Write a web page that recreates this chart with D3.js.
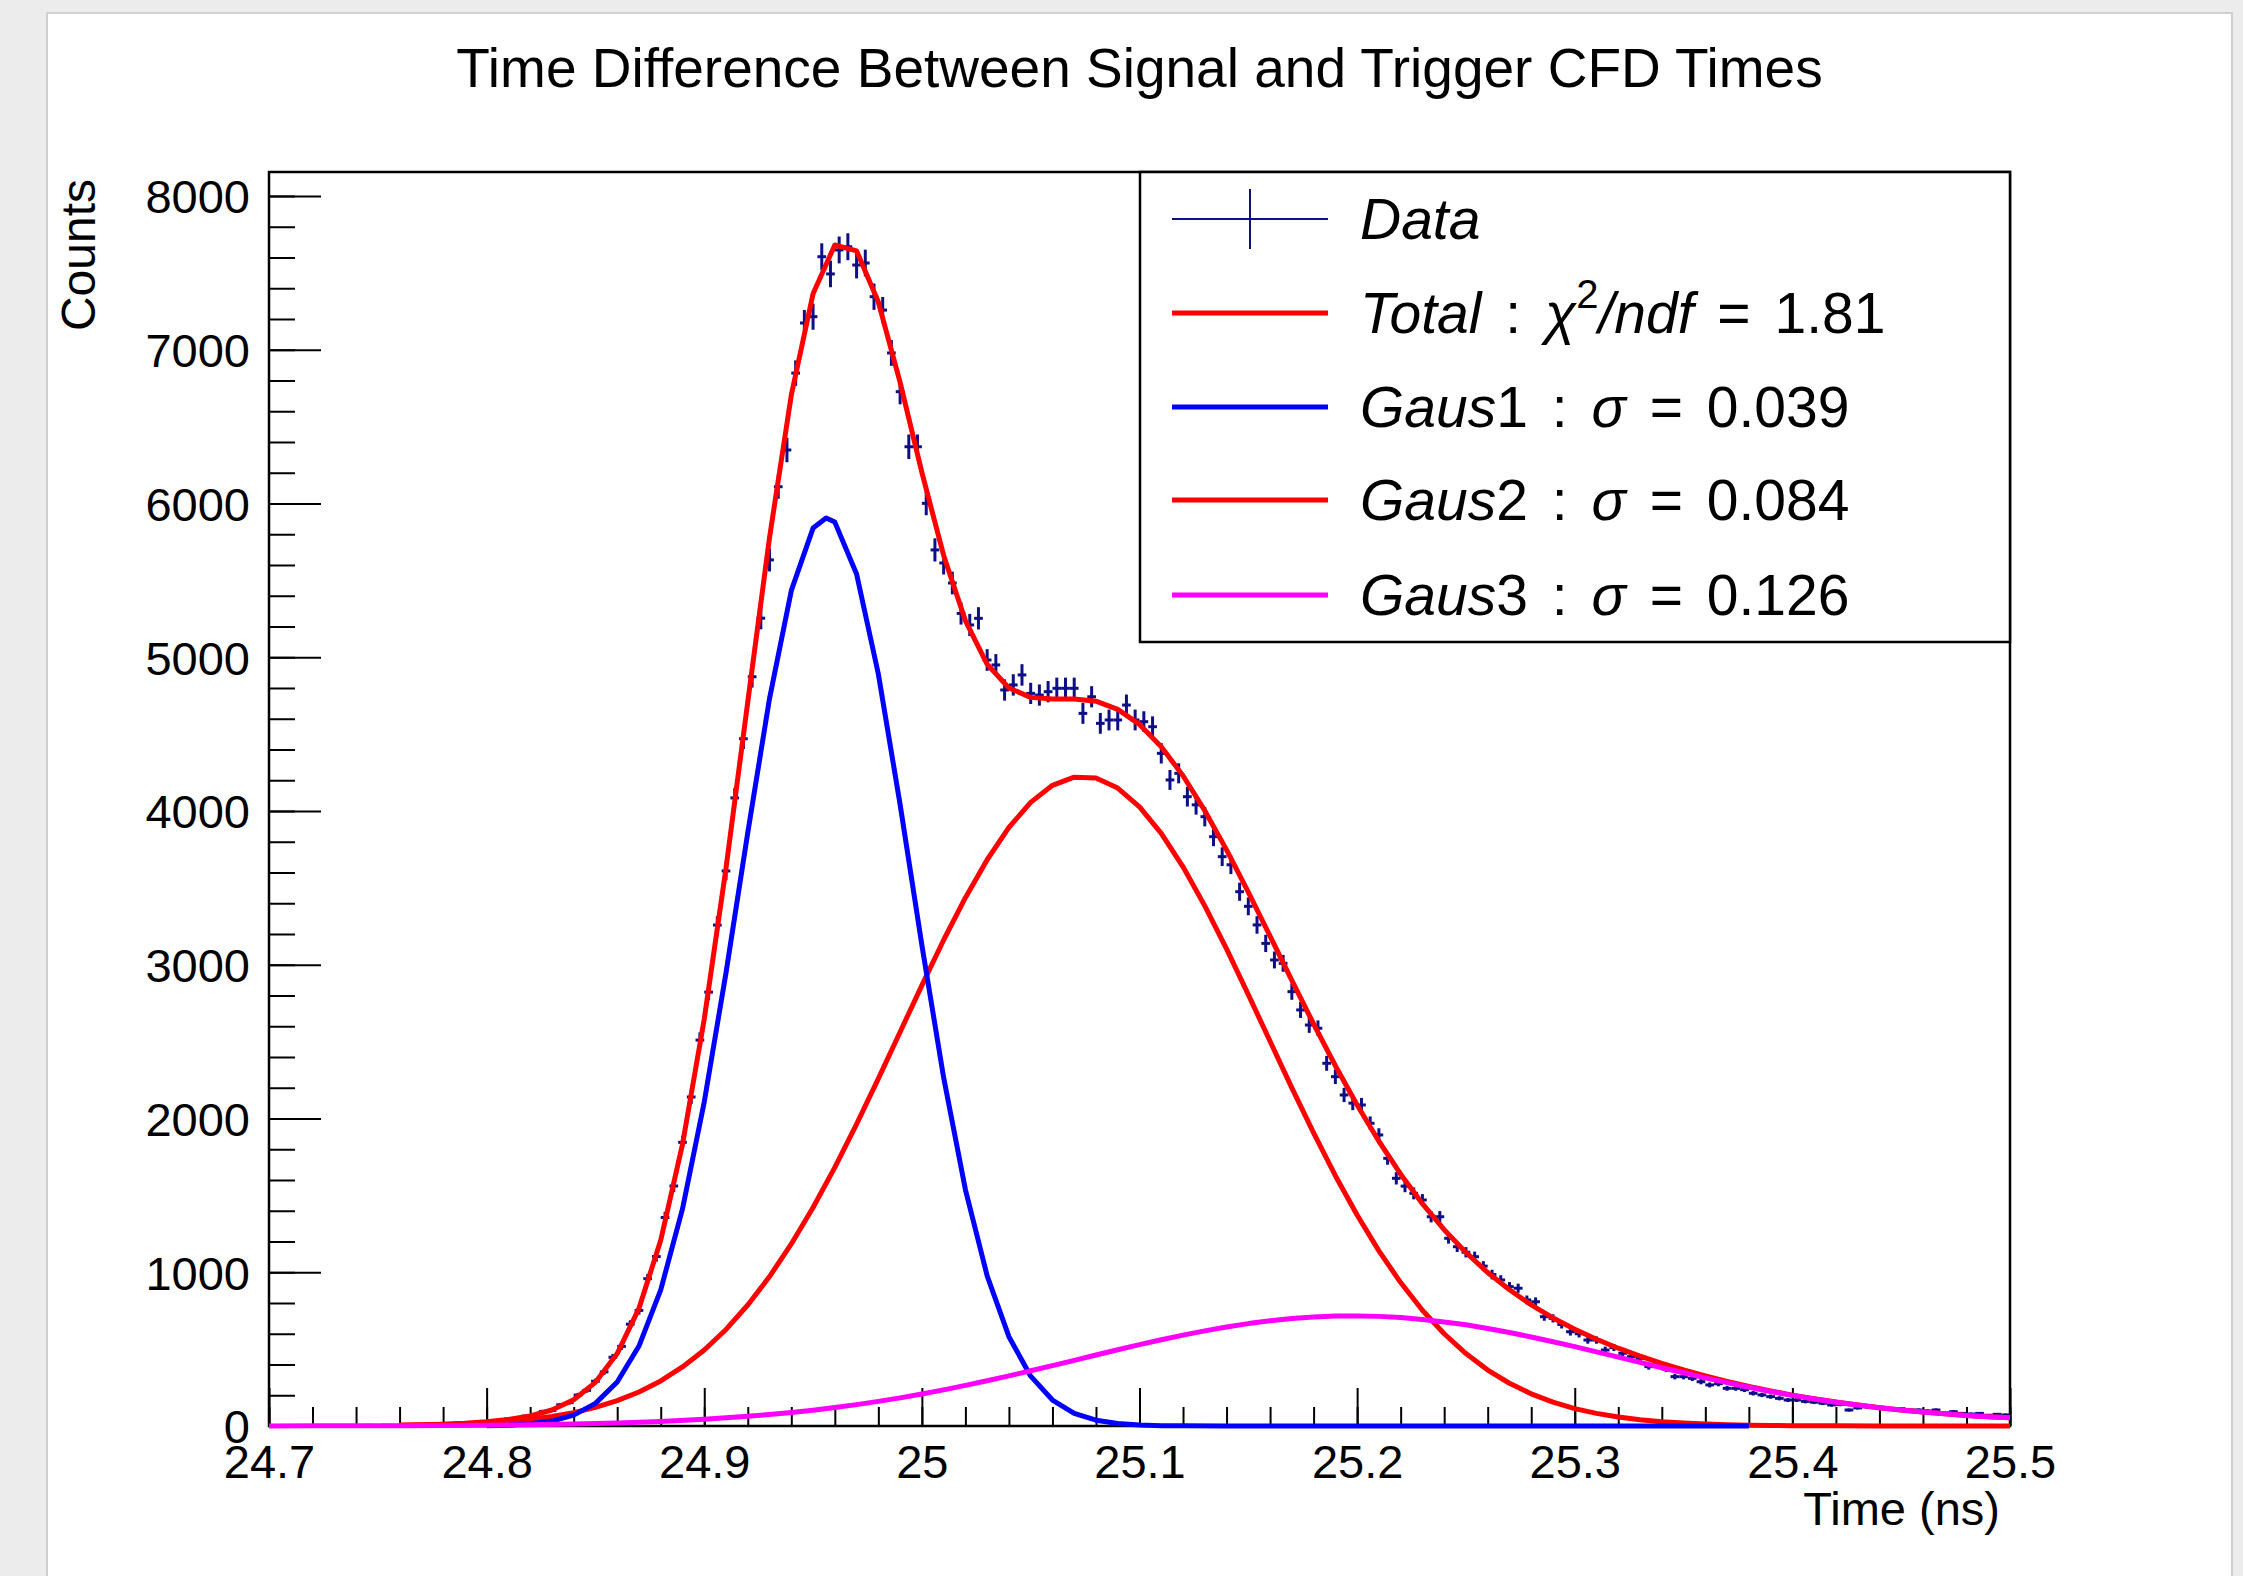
<!DOCTYPE html>
<html>
<head>
<meta charset="utf-8">
<script src="https://cdn.jsdelivr.net/npm/d3@7"></script>
<style>
body { margin: 0; background: #ececec; }
svg text { font-family: "Liberation Sans", Arial, Helvetica, sans-serif; fill: #000; }
</style>
</head>
<body>
<div id="chart_id"></div>
<script>
// ---- data ----
const xTicks = [24.7, 24.8, 24.9, 25.0, 25.1, 25.2, 25.3, 25.4, 25.5]
const xTickLabels = ["24.7", "24.8", "24.9", "25", "25.1", "25.2", "25.3", "25.4", "25.5"]
const yTicks = [0, 1000, 2000, 3000, 4000, 5000, 6000, 7000, 8000]
const yTickLabels = ["0", "1000", "2000", "3000", "4000", "5000", "6000", "7000", "8000"]

// histogram: 200 bins between 24.7 and 25.5 ns
const histRange = [24.7, 25.5]
const histCounts = [
	0, 1, 0, 1, 0, 2, 1, 2, 1, 3,
	2, 4, 3, 5, 4, 7, 6, 9, 8, 13,
	12, 17, 20, 21, 29, 34, 33, 46, 49, 64,
	70, 95, 101, 138, 152, 201, 232, 291, 352, 447,
	518, 662, 752, 958, 1102, 1356, 1561, 1845, 2140, 2510,
	2822, 3258, 3610, 4085, 4470, 4873, 5254, 5633, 6109, 6348,
	6848, 7174, 7215, 7605, 7493, 7649, 7670, 7551, 7564, 7345,
	7258, 6979, 6727, 6369, 6369, 6001, 5698, 5613, 5483, 5285,
	5210, 5253, 4982, 4950, 4787, 4820, 4885, 4765, 4754, 4776,
	4798, 4798, 4798, 4635, 4743, 4570, 4592, 4592, 4689, 4592,
	4581, 4548, 4375, 4202, 4245, 4093, 4040, 3963, 3833, 3703,
	3650, 3475, 3380, 3259, 3139, 3031, 3009, 2825, 2706, 2608,
	2587, 2359, 2272, 2153, 2100, 2088, 1969, 1893, 1741, 1611,
	1560, 1513, 1470, 1361, 1361, 1221, 1166, 1130, 1101, 1040,
	985, 950, 906, 896, 820, 808, 711, 700, 660, 613,
	600, 559, 559, 494, 510, 473, 451, 440, 386, 400,
	370, 321, 321, 310, 288, 267, 275, 245, 245, 236,
	213, 202, 191, 180, 169, 169, 160, 155, 148, 137,
	140, 104, 118, 126, 126, 120, 108, 112, 104, 104,
	98, 104, 85, 93, 82, 78, 82, 70, 76, 72
]

// fitted curves, [time, counts]
const totalFit = [
	[24.76, 6], [24.77, 8], [24.78, 12], [24.79, 18], [24.80, 28], [24.81, 42], [24.82, 66], [24.83, 104],
	[24.84, 171], [24.85, 284], [24.86, 471], [24.87, 765], [24.88, 1208], [24.89, 1832], [24.90, 2646],
	[24.91, 3629], [24.92, 4710], [24.93, 5779], [24.94, 6705], [24.95, 7364], [24.96, 7681], [24.97, 7643],
	[24.98, 7310], [24.99, 6788], [25.00, 6202], [25.01, 5662], [25.02, 5238], [25.03, 4954], [25.04, 4800],
	[25.05, 4739], [25.06, 4729], [25.07, 4729], [25.08, 4714], [25.09, 4661], [25.10, 4563], [25.11, 4418],
	[25.12, 4229], [25.13, 4002], [25.14, 3747], [25.15, 3472], [25.16, 3186], [25.17, 2898], [25.18, 2615],
	[25.19, 2343], [25.20, 2088], [25.21, 1852], [25.22, 1638], [25.23, 1446], [25.24, 1277], [25.25, 1129],
	[25.26, 998], [25.27, 886], [25.28, 788], [25.29, 703], [25.30, 629], [25.31, 564], [25.32, 506],
	[25.33, 455], [25.34, 407], [25.35, 365], [25.36, 326], [25.37, 290], [25.38, 257], [25.39, 228],
	[25.40, 201], [25.41, 177], [25.42, 156], [25.43, 136], [25.44, 119], [25.45, 104], [25.46, 91],
	[25.47, 79], [25.48, 69], [25.49, 60], [25.50, 53]
]
const gaus1Fit = [
	[24.80, 2], [24.81, 5], [24.82, 14], [24.83, 32], [24.84, 71], [24.85, 147], [24.86, 286], [24.87, 520],
	[24.88, 885], [24.89, 1412], [24.90, 2108], [24.91, 2948], [24.92, 3860], [24.93, 4732], [24.94, 5433],
	[24.95, 5840], [24.956, 5906], [24.96, 5879], [24.97, 5541], [24.98, 4891], [24.99, 4042], [25.00, 3128],
	[25.01, 2266], [25.02, 1538], [25.03, 977], [25.04, 581], [25.05, 324], [25.06, 169], [25.07, 82],
	[25.08, 38], [25.09, 16], [25.10, 6], [25.11, 2], [25.12, 1], [25.14, 0], [25.25, 0], [25.38, 0]
]
const gaus2Fit = [
	[24.76, 4], [24.77, 6], [24.78, 9], [24.79, 14], [24.80, 21], [24.81, 30], [24.82, 44], [24.83, 62],
	[24.84, 87], [24.85, 121], [24.86, 165], [24.87, 221], [24.88, 293], [24.89, 384], [24.90, 494],
	[24.91, 628], [24.92, 787], [24.93, 972], [24.94, 1184], [24.95, 1421], [24.96, 1682], [24.97, 1963],
	[24.98, 2259], [24.99, 2563], [25.00, 2866], [25.01, 3161], [25.02, 3436], [25.03, 3683], [25.04, 3893],
	[25.05, 4056], [25.06, 4167], [25.07, 4220], [25.08, 4214], [25.09, 4149], [25.10, 4027], [25.11, 3855],
	[25.12, 3637], [25.13, 3383], [25.14, 3103], [25.15, 2806], [25.16, 2502], [25.17, 2199], [25.18, 1906],
	[25.19, 1628], [25.20, 1372], [25.21, 1139], [25.22, 933], [25.23, 753], [25.24, 600], [25.25, 471],
	[25.26, 364], [25.27, 278], [25.28, 209], [25.29, 155], [25.30, 113], [25.31, 82], [25.32, 58],
	[25.33, 41], [25.34, 28], [25.35, 19], [25.36, 13], [25.37, 8], [25.38, 5], [25.39, 4], [25.40, 2],
	[25.42, 1], [25.44, 0], [25.50, 0]
]
const gaus3Fit = [
	[24.70, 0], [24.72, 1], [24.74, 1], [24.76, 2], [24.78, 3], [24.80, 5], [24.82, 8], [24.84, 13],
	[24.86, 20], [24.88, 30], [24.90, 44], [24.91, 53], [24.92, 63], [24.93, 75], [24.94, 88], [24.95, 103],
	[24.96, 120], [24.97, 139], [24.98, 160], [24.99, 183], [25.00, 208], [25.01, 235], [25.02, 264],
	[25.03, 294], [25.04, 326], [25.05, 359], [25.06, 393], [25.07, 427], [25.08, 462], [25.09, 496],
	[25.10, 529], [25.11, 561], [25.12, 591], [25.13, 619], [25.14, 644], [25.15, 666], [25.16, 684],
	[25.17, 699], [25.18, 709], [25.19, 715], [25.20, 716], [25.21, 713], [25.22, 705], [25.23, 693],
	[25.24, 677], [25.25, 658], [25.26, 634], [25.27, 608], [25.28, 579], [25.29, 548], [25.30, 516],
	[25.31, 482], [25.32, 448], [25.33, 414], [25.34, 379], [25.35, 346], [25.36, 313], [25.37, 282],
	[25.38, 252], [25.39, 224], [25.40, 199], [25.41, 176], [25.42, 155], [25.43, 136], [25.44, 119],
	[25.45, 104], [25.46, 91], [25.47, 79], [25.48, 69], [25.49, 60], [25.50, 53]
]

const legendNames = ["Data", "Total", "Gaus1", "Gaus2", "Gaus3"]
const chi2ndf = "1.81"
const gausSigmas = ["0.039", "0.084", "0.126"]

// ---- layout ----
const W = 2243, H = 1576
const frame = {left: 269, right: 2010, top: 172, bottom: 1426}
const yMax = 8156
const data_color = "#0e0e86"
const curve_width = 5

const svg = d3.select("#chart_id")
	.append("svg")
	.attr("width", W)
	.attr("height", H)

// canvas panel
svg.append("rect")
	.attr("x", 46).attr("y", 12)
	.attr("width", 2187).attr("height", H)
	.attr("fill", "#cfcfcf")
svg.append("rect")
	.attr("x", 48).attr("y", 14)
	.attr("width", 2183).attr("height", H)
	.attr("fill", "white")

var x = d3.scaleLinear().domain(histRange).range([frame.left, frame.right])
var y = d3.scaleLinear().domain([0, yMax]).range([frame.bottom, frame.top])

// title
svg.append("text")
	.attr("x", (frame.left + frame.right) / 2)
	.attr("y", 87)
	.attr("text-anchor", "middle")
	.attr("font-size", 55)
	.text("Time Difference Between Signal and Trigger CFD Times")

// frame box
svg.append("rect")
	.attr("x", frame.left).attr("y", frame.top)
	.attr("width", frame.right - frame.left)
	.attr("height", frame.bottom - frame.top)
	.attr("fill", "none")
	.attr("stroke", "black")
	.attr("stroke-width", 2.5)

// x axis: minor then major ticks, pointing inward
const xMinor = d3.range(histRange[0], histRange[1] + 0.001, 0.02)
svg.append("g")
	.attr("transform", "translate(0," + frame.bottom + ")")
	.call(d3.axisBottom(x).tickValues(xMinor).tickSize(-19).tickFormat(""))
	.call(g => g.select(".domain").remove())
	.call(g => g.selectAll("line").attr("stroke-width", 2))

svg.append("g")
	.attr("transform", "translate(0," + frame.bottom + ")")
	.call(d3.axisBottom(x).tickValues(xTicks).tickSize(-38)
		.tickFormat((d, i) => xTickLabels[i]))
	.call(g => g.select(".domain").remove())
	.call(g => g.selectAll("line").attr("stroke-width", 2))
	.call(g => g.selectAll("text")
		.attr("y", 52).attr("dy", 0)
		.attr("font-size", 47))
	.attr("font-size", 47)
	.attr("font-family", null)

// y axis
const yMinor = d3.range(0, 8001, 200)
svg.append("g")
	.attr("transform", "translate(" + frame.left + ",0)")
	.call(d3.axisLeft(y).tickValues(yMinor).tickSize(-26).tickFormat(""))
	.call(g => g.select(".domain").remove())
	.call(g => g.selectAll("line").attr("stroke-width", 2))

svg.append("g")
	.attr("transform", "translate(" + frame.left + ",0)")
	.call(d3.axisLeft(y).tickValues(yTicks).tickSize(-52)
		.tickFormat((d, i) => yTickLabels[i]))
	.call(g => g.select(".domain").remove())
	.call(g => g.selectAll("line").attr("stroke-width", 2))
	.call(g => g.selectAll("text")
		.attr("x", -19).attr("dy", "0.36em")
		.attr("font-size", 47))
	.attr("font-size", 47)
	.attr("font-family", null)

// axis titles
svg.append("text")
	.attr("x", 2000).attr("y", 1525)
	.attr("text-anchor", "end")
	.attr("font-size", 47)
	.text("Time (ns)")

svg.append("text")
	.attr("transform", "translate(95,179) rotate(-90)")
	.attr("text-anchor", "end")
	.attr("font-size", 48)
	.text("Counts")

// ---- data points with error bars ----
const binWidth = (histRange[1] - histRange[0]) / histCounts.length
const bins = histCounts.map((c, i) => ({
	center: histRange[0] + (i + 0.5) * binWidth,
	count: c
})).filter(b => b.count > 0)

const pts = svg.append("g")
	.attr("stroke", data_color)
	.attr("stroke-width", 3)

pts.selectAll(".hbar")
	.data(bins)
	.join("line")
	.attr("class", "hbar")
	.attr("x1", d => x(d.center - binWidth / 2))
	.attr("x2", d => x(d.center + binWidth / 2))
	.attr("y1", d => y(d.count))
	.attr("y2", d => y(d.count))

pts.selectAll(".vbar")
	.data(bins)
	.join("line")
	.attr("class", "vbar")
	.attr("x1", d => x(d.center))
	.attr("x2", d => x(d.center))
	.attr("y1", d => y(d.count - Math.sqrt(d.count)))
	.attr("y2", d => y(d.count + Math.sqrt(d.count)))

// ---- fit curves ----
const line = d3.line()
	.x(d => x(d[0]))
	.y(d => y(d[1]))

function draw_curve(points, color){
	svg.append("path")
		.datum(points)
		.attr("d", line)
		.attr("fill", "none")
		.attr("stroke", color)
		.attr("stroke-width", curve_width)
		.attr("stroke-linejoin", "round")
}

draw_curve(gaus2Fit, "#ff0000")
draw_curve(totalFit, "#ff0000")
draw_curve(gaus1Fit, "#0000ff")
draw_curve(gaus3Fit, "#ff00ff")

// ---- legend ----
const leg = {left: 1140, top: 172, right: 2010, bottom: 642}
svg.append("rect")
	.attr("x", leg.left).attr("y", leg.top)
	.attr("width", leg.right - leg.left)
	.attr("height", leg.bottom - leg.top)
	.attr("fill", "white")
	.attr("stroke", "black")
	.attr("stroke-width", 2.5)

const row_y = [219, 313, 407, 500, 595]
const row_colors = [data_color, "#ff0000", "#0000ff", "#ff0000", "#ff00ff"]
const sample_x1 = 1172, sample_x2 = 1328, text_x = 1360

legendNames.forEach(function(name, i){
	var ry = row_y[i]
	if (i == 0){
		svg.append("line")
			.attr("x1", sample_x1).attr("x2", sample_x2)
			.attr("y1", ry).attr("y2", ry)
			.attr("stroke", data_color).attr("stroke-width", 2)
		svg.append("line")
			.attr("x1", (sample_x1 + sample_x2) / 2).attr("x2", (sample_x1 + sample_x2) / 2)
			.attr("y1", ry - 30).attr("y2", ry + 30)
			.attr("stroke", data_color).attr("stroke-width", 2)
	} else {
		svg.append("line")
			.attr("x1", sample_x1).attr("x2", sample_x2)
			.attr("y1", ry).attr("y2", ry)
			.attr("stroke", row_colors[i]).attr("stroke-width", curve_width)
	}

	var t = svg.append("text")
		.attr("x", text_x)
		.attr("y", ry + 20)
		.attr("font-size", 57)
		.attr("word-spacing", 8)
		.attr("xml:space", "preserve")

	if (i == 0){
		t.append("tspan").attr("font-style", "italic").text(name)
	} else if (i == 1){
		t.append("tspan").attr("font-style", "italic").text(name)
		t.append("tspan").text(" : ")
		t.append("tspan").attr("font-style", "italic").text("χ")
		t.append("tspan").attr("font-size", 40).attr("dy", -25).text("2")
		t.append("tspan").attr("font-style", "italic").attr("dy", 25).text("/ndf")
		t.append("tspan").text(" = " + chi2ndf)
	} else {
		t.append("tspan").attr("font-style", "italic").text(name.slice(0, 4))
		t.append("tspan").text(name.slice(4))
		t.append("tspan").text(" : ")
		t.append("tspan").attr("font-style", "italic").text("σ")
		t.append("tspan").text(" = " + gausSigmas[i - 2])
	}
})
</script>
</body>
</html>
